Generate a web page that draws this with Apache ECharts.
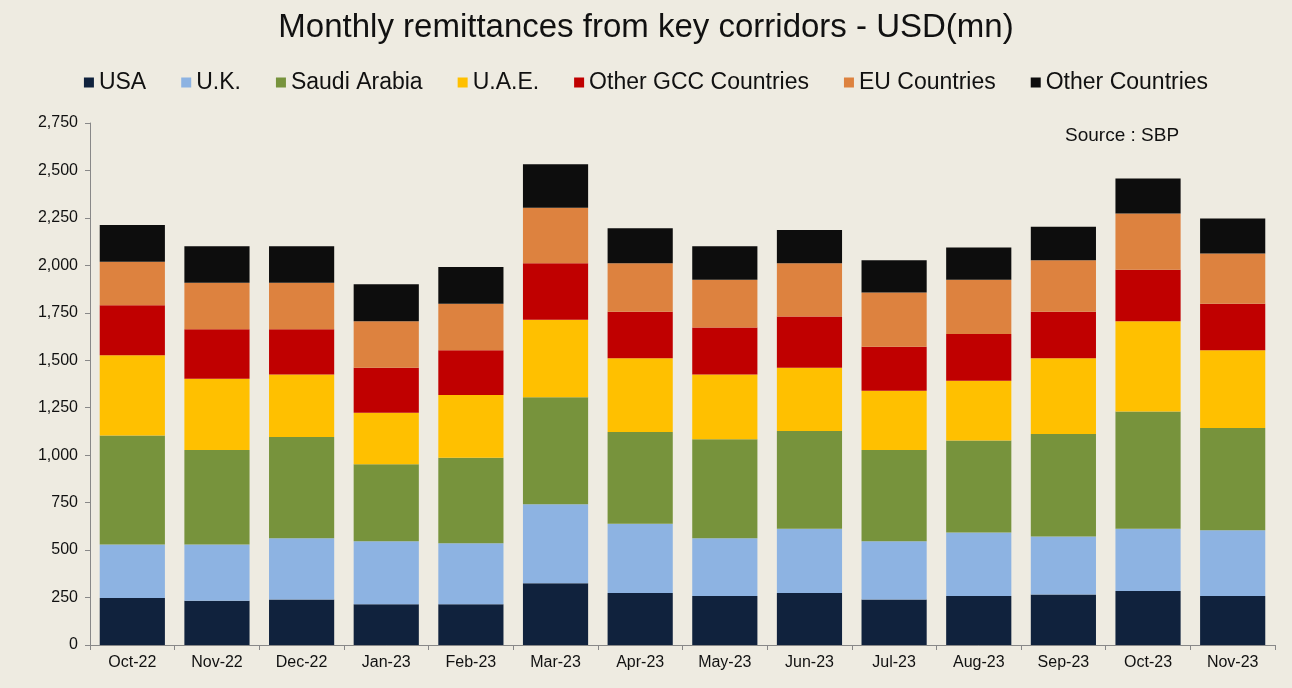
<!DOCTYPE html>
<html>
<head>
<meta charset="utf-8">
<script src="https://cdn.jsdelivr.net/npm/echarts@6/dist/echarts.min.js"></script>
<style>
  html, body {margin: 0; padding: 0; background: #eeebe1;}
  #chart {width: 1292px; height: 688px;}
</style>
</head>
<body>
<div id="chart"></div>
<script>
// 月份
const months = ['Oct-22', 'Nov-22', 'Dec-22', 'Jan-23', 'Feb-23', 'Mar-23', 'Apr-23',
  'May-23', 'Jun-23', 'Jul-23', 'Aug-23', 'Sep-23', 'Oct-23', 'Nov-23']

// 各走廊汇款 (USD mn)
const usa = [248, 233, 240, 215, 215, 325, 274, 258, 274, 240, 258, 266, 284, 258]
const uk = [282, 297, 322, 331, 321, 416, 365, 304, 339, 306, 335, 306, 329, 347]
const saudiArabia = [574, 497, 534, 406, 450, 564, 483, 522, 515, 481, 485, 540, 617, 538]
const uae = [422, 375, 329, 272, 331, 408, 388, 341, 333, 313, 314, 398, 475, 410]
const otherGcc = [264, 262, 239, 237, 236, 298, 246, 247, 270, 231, 246, 246, 272, 245]
const euCountries = [229, 244, 244, 244, 245, 293, 255, 252, 280, 286, 286, 271, 296, 264]
const otherCountries = [193, 193, 193, 195, 193, 229, 185, 177, 175, 170, 170, 177, 185, 185]

const seriesList = [
  ['USA', usa, '#10223d'],
  ['U.K.', uk, '#8db3e2'],
  ['Saudi Arabia', saudiArabia, '#77933c'],
  ['U.A.E.', uae, '#ffc000'],
  ['Other GCC Countries', otherGcc, '#c00000'],
  ['EU Countries', euCountries, '#dd823f'],
  ['Other Countries', otherCountries, '#0d0d0d'],
]

const font = 'Liberation Sans, Arial, sans-serif'

const chart = echarts.init(document.getElementById('chart'))
chart.setOption({
  backgroundColor: '#eeebe1',
  animation: false,
  title: [
    {
      text: 'Monthly remittances from key corridors - USD(mn)',
      left: 'center',
      top: 6,
      textStyle: {fontFamily: font, fontSize: 33, fontWeight: 'normal', color: '#111'},
    },
    {
      text: 'Source : SBP',
      left: 1060,
      top: 121,
      textStyle: {fontFamily: font, fontSize: 19, fontWeight: 'normal', color: '#111'},
    },
  ],
  legend: {
    top: 66,
    left: 'center',
    itemWidth: 10,
    itemHeight: 10,
    itemGap: 35,
    icon: 'rect',
    textStyle: {fontFamily: font, fontSize: 23, color: '#111', padding: [0, 0, 0, 0]},
  },
  grid: {left: 90, right: 17, top: 123, bottom: 43},
  xAxis: {
    type: 'category',
    data: months,
    axisLine: {lineStyle: {color: '#888'}},
    axisTick: {show: true, length: 5, lineStyle: {color: '#888'}},
    axisLabel: {fontFamily: font, fontSize: 16, color: '#111', margin: 10},
  },
  yAxis: {
    type: 'value',
    min: 0,
    max: 2750,
    interval: 250,
    axisLine: {show: true, lineStyle: {color: '#888'}},
    axisTick: {show: true, length: 5, lineStyle: {color: '#888'}},
    splitLine: {show: false},
    axisLabel: {
      fontFamily: font,
      fontSize: 16,
      color: '#111',
      margin: 12,
      formatter: v => v.toLocaleString('en-US'),
    },
  },
  series: seriesList.map(([name, data, color]) => ({
    name,
    type: 'bar',
    stack: 'total',
    data,
    barCategoryGap: '23%',
    itemStyle: {color},
  })),
})
</script>
</body>
</html>
